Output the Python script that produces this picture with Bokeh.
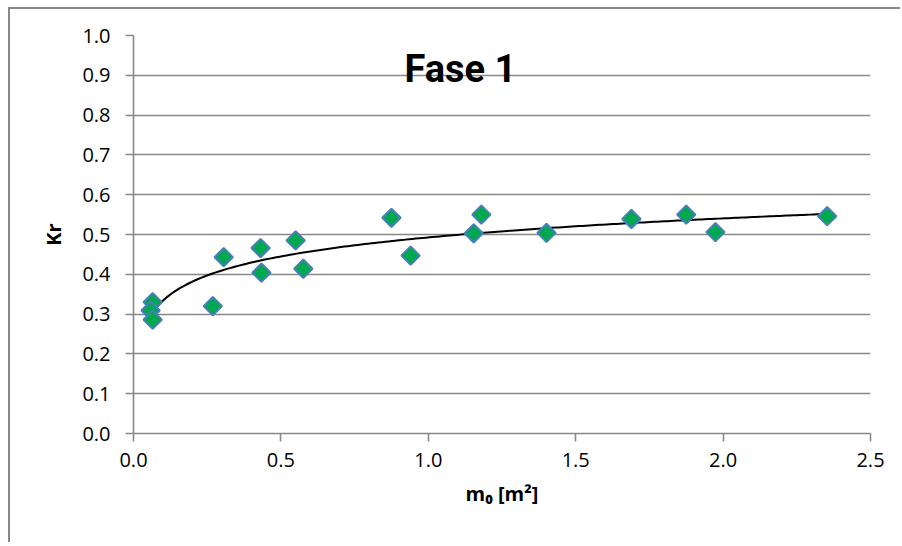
import numpy as np
from bokeh.plotting import figure
from bokeh.models import Range1d, FixedTicker, PrintfTickFormatter, Label, ColumnDataSource
from bokeh.embed import file_html
from bokeh.resources import INLINE

# data
m0 = [0.065, 0.058, 0.065, 0.269, 0.306, 0.431, 0.434, 0.550, 0.576,
      0.875, 0.940, 1.154, 1.180, 1.401, 1.689, 1.875, 1.974, 2.353]
kr = [0.330, 0.309, 0.286, 0.320, 0.443, 0.466, 0.404, 0.485, 0.414,
      0.542, 0.447, 0.503, 0.550, 0.504, 0.539, 0.550, 0.506, 0.546]
y_ticks = [0.0, 0.1, 0.2, 0.3, 0.4, 0.5, 0.6, 0.7, 0.8, 0.9, 1.0]
x_ticks = [0.0, 0.5, 1.0, 1.5, 2.0, 2.5]
title_text = "Fase 1"
x_label = "m\u2080 [m\u00b2]"
y_label = "Kr"

# logarithmic trendline (least squares, like the spreadsheet trendline)
a, b = np.polyfit(np.log(m0), kr, 1)
xt = np.linspace(min(m0), max(m0), 200)
yt = a * np.log(xt) + b

GRID = "#888888"
FONT = "Open Sans"

p = figure(width=892, height=535, output_backend="svg", toolbar_location=None,
           x_range=Range1d(0, 2.5), y_range=Range1d(0, 1.0),
           min_border_left=123, min_border_top=26, min_border_bottom=111, min_border_right=32)
p.styles = {"margin-left": "8px", "margin-top": "7px",
            "border-left": "2px solid #888888", "border-top": "2px solid #888888"}
p.outline_line_color = None
p.background_fill_color = "white"
p.border_fill_color = "white"

p.xgrid.grid_line_color = None
p.ygrid.grid_line_color = GRID
p.ygrid.grid_line_width = 1.6
p.ygrid.ticker = FixedTicker(ticks=y_ticks)

for ax in (p.xaxis[0], p.yaxis[0]):
    ax.axis_line_color = GRID
    ax.axis_line_width = 1.6
    ax.major_tick_line_color = GRID
    ax.major_tick_line_width = 1.6
    ax.major_tick_in = 0
    ax.major_tick_out = 8
    ax.minor_tick_line_color = None
    ax.major_label_text_font = FONT
    ax.major_label_text_font_size = "20px"
    ax.major_label_text_color = "#000000"
    ax.axis_label_text_font = FONT
    ax.axis_label_text_font_style = "bold"
    ax.axis_label_text_font_size = "20px"
    ax.axis_label_text_color = "#000000"
    ax.formatter = PrintfTickFormatter(format="%.1f")

p.xaxis.ticker = FixedTicker(ticks=x_ticks)
p.yaxis.ticker = FixedTicker(ticks=y_ticks)
p.xaxis.axis_label = x_label
p.yaxis.axis_label = y_label
p.xaxis.major_label_standoff = 11
p.yaxis.major_label_standoff = 15
p.xaxis.axis_label_standoff = 10
p.yaxis.axis_label_standoff = 12

src = ColumnDataSource(dict(x=m0, y=kr))
p.line(xt, yt, line_color="black", line_width=2)
p.scatter("x", "y", source=src, marker="square", angle=np.pi / 4, size=13,
          fill_color="#00a84f", line_color="#4a7ebb", line_width=2)

p.add_layout(Label(x=1.109, y=0.917, text=title_text, text_align="center",
                   text_baseline="alphabetic", text_font="Roboto",
                   text_font_style="bold", text_font_size="38px", text_color="black"))

open("out.html", "w").write(file_html(p, INLINE))
